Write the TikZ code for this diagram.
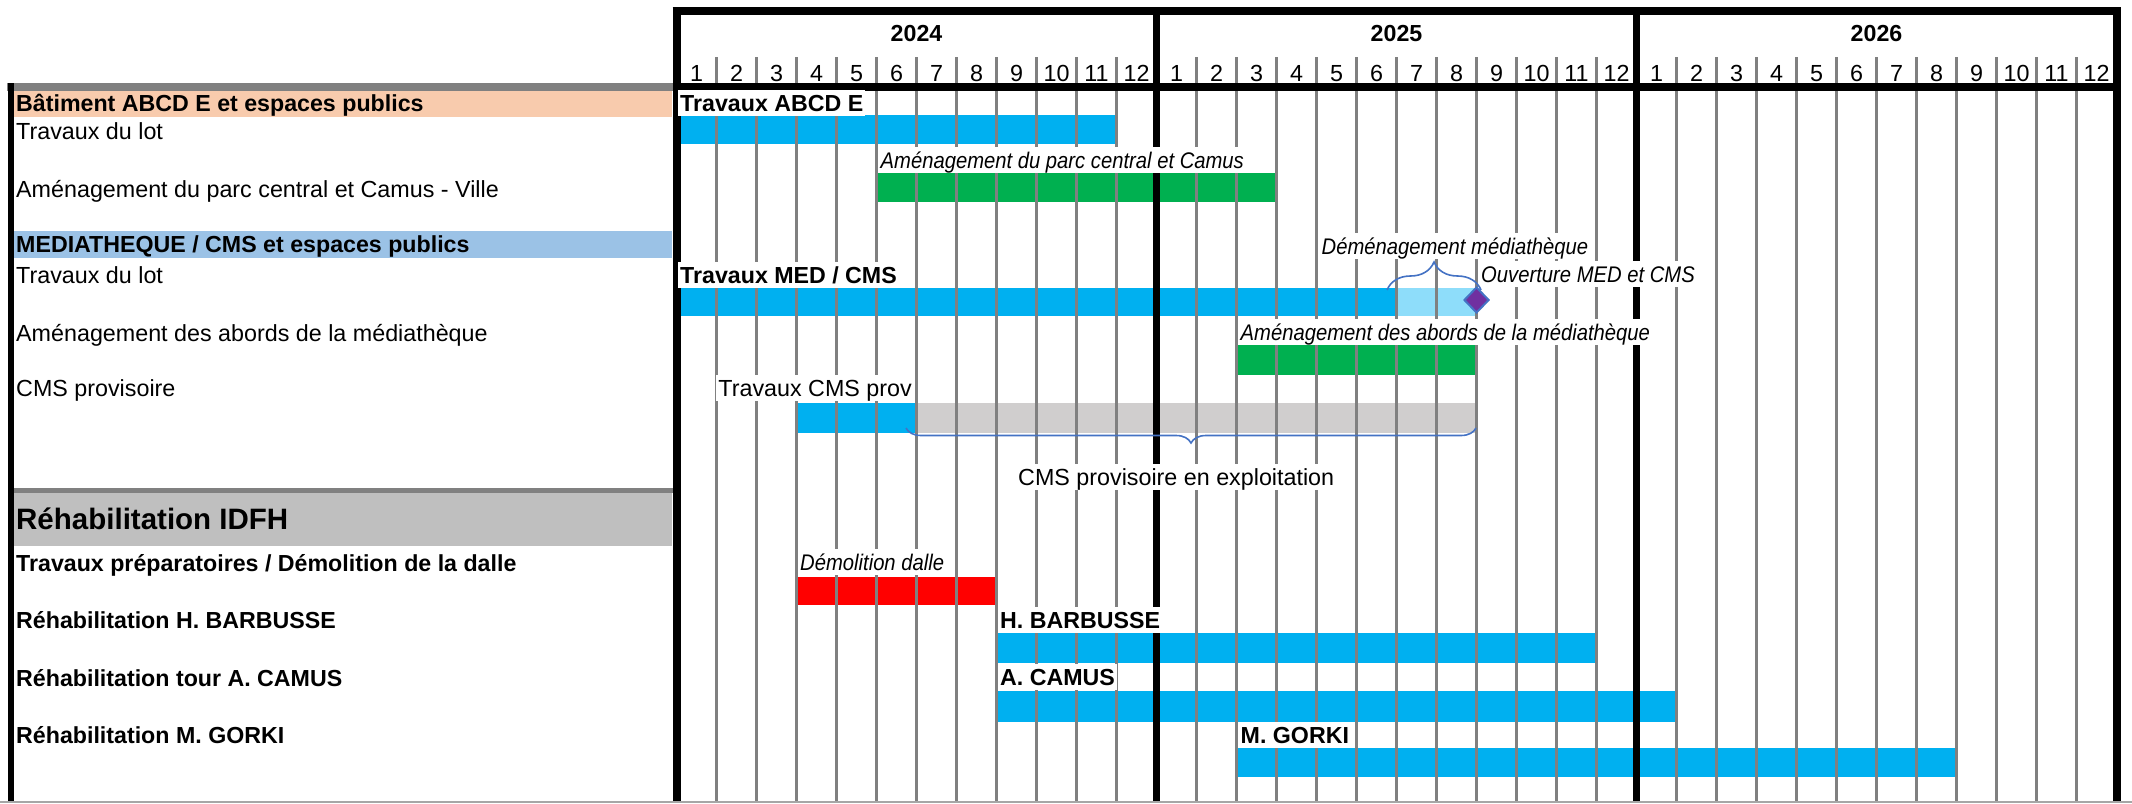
\documentclass[tikz,border=0pt]{standalone}
\usepackage{fontspec}
\setmainfont{Liberation Sans}
\newfontfamily\narrowfam{Liberation Sans}[FakeStretch=0.895]
\usetikzlibrary{decorations.pathreplacing,shapes.geometric}
\definecolor{cblue}{HTML}{00B0F0}
\definecolor{clight}{RGB}{142,221,250}
\definecolor{cgreen}{HTML}{00B050}
\definecolor{cred}{HTML}{FF0000}
\definecolor{cgraybar}{HTML}{D0CECE}
\definecolor{corange}{HTML}{F8CBAD}
\definecolor{cbandblue}{HTML}{9BC2E6}
\definecolor{cbandgray}{HTML}{BFBFBF}
\definecolor{cline}{HTML}{808080}
\definecolor{cpurple}{HTML}{7030A0}
\definecolor{cbrace}{HTML}{4472C4}
\begin{document}
\begin{tikzpicture}[x=1pt,y=-1pt,
  txt/.style={inner xsep=2pt, inner ysep=0pt, text height=21pt, text depth=5pt},
  freg/.style={font=\fontsize{23.3}{28}\selectfont},
  fbold/.style={font=\fontsize{23.2}{28}\selectfont\bfseries},
  fital/.style={font=\narrowfam\fontsize{22.6}{27}\selectfont\itshape},
  rowlbl/.style={txt, anchor=base west},
  barlbl/.style={txt, anchor=base west, fill=white},
  hdr/.style={anchor=base, inner sep=0pt},
  mline/.style={draw=cline, line width=3.5pt},
  blackline/.style={draw=black, line width=#1},
  bracestyle/.style={draw=cbrace, line width=1.6pt, decorate, decoration={brace, amplitude=#1}},
]
\useasboundingbox (0,0) rectangle (2132,803);
\fill[white] (0,0) rectangle (2132,803);

% ---------- left panel ----------
\fill[corange] (14,91) rectangle (672,117);
\fill[cbandblue] (14,231) rectangle (672,258);
\fill[cbandgray] (14,493) rectangle (672,546);
\draw[draw=cline, line width=8pt] (7,87) -- (673,87);
\draw[draw=cline, line width=5pt] (13,490.5) -- (673,490.5);
\draw[blackline=6pt] (10.5,83) -- (10.5,803);

\node[rowlbl, fbold] (l1) at (14,111) {Bâtiment ABCD E et espaces publics};
\node[rowlbl, freg] (l2) at (14,139) {Travaux du lot};
\node[rowlbl, freg] (l3) at (14,197) {Aménagement du parc central et Camus - Ville};
\node[rowlbl, fbold] (l4) at (14,252) {MEDIATHEQUE / CMS et espaces publics};
\node[rowlbl, freg] (l5) at (14,283) {Travaux du lot};
\node[rowlbl, freg] (l6) at (14,341) {Aménagement des abords de la médiathèque};
\node[rowlbl, freg] (l7) at (14,396) {CMS provisoire};
\node[rowlbl, font=\fontsize{29.5}{34}\selectfont\bfseries] (l8) at (14,529) {Réhabilitation IDFH};
\node[rowlbl, fbold] (l9) at (14,571) {Travaux préparatoires / Démolition de la dalle};
\node[rowlbl, fbold] (l10) at (14,628) {Réhabilitation H. BARBUSSE};
\node[rowlbl, fbold] (l11) at (14,686) {Réhabilitation tour A. CAMUS};
\node[rowlbl, fbold] (l12) at (14,743) {Réhabilitation M. GORKI};

% ---------- bars ----------
\fill[cblue]   (676.5+40*0,115) rectangle (676.5+40*11,144);
\fill[cgreen]  (676.5+40*5,173) rectangle (676.5+40*15,202);
\fill[cblue]   (676.5+40*0,288) rectangle (676.5+40*18,316);
\fill[clight]  (676.5+40*18,288) rectangle (676.5+40*20,316);
\fill[cgreen]  (676.5+40*14,345) rectangle (676.5+40*20,375);
\fill[cblue]   (676.5+40*3,403) rectangle (676.5+40*6,433);
\fill[cgraybar](676.5+40*6,403) rectangle (676.5+40*20,433);
\fill[cred]    (676.5+40*3,577) rectangle (676.5+40*8,605);
\fill[cblue]   (676.5+40*8,633) rectangle (676.5+40*23,663);
\fill[cblue]   (676.5+40*8,691) rectangle (676.5+40*25,722);
\fill[cblue]   (676.5+40*14,748) rectangle (676.5+40*32,777);

% ---------- month lines ----------
\foreach \k in {1,...,35}
  \draw[mline] (676.5+40*\k,57) -- (676.5+40*\k,803);

% ---------- black frame ----------
\draw[blackline=7pt] (1156.5,11) -- (1156.5,803);
\draw[blackline=7pt] (1636.5,11) -- (1636.5,803);
\draw[blackline=8pt] (672.5,11) -- (2120.5,11);
\draw[blackline=8pt] (672.5,86.5) -- (2120.5,86.5);
\draw[blackline=8pt] (676.5,7) -- (676.5,803);
\draw[blackline=8pt] (2116.5,7) -- (2116.5,803);

% ---------- header texts ----------
\node[hdr, fbold] (y2024) at (916.5,41.5) {2024};
\node[hdr, fbold] (y2025) at (1396.5,41.5) {2025};
\node[hdr, fbold] (y2026) at (1876.5,41.5) {2026};
\foreach \y in {0,1,2}
  \foreach \m in {1,...,12}
    \node[hdr, freg] (m\y-\m) at ({676.5+40*(12*\y+\m-0.5)},81) {\m};

% ---------- bar labels ----------
\node[barlbl, fbold] (t1) at (678,111) {Travaux ABCD E};
\node[barlbl, fital] (t2) at (878.5,168) {Aménagement du parc central et Camus};
\node[barlbl, fital] (t3) at (1319.5,254) {Déménagement médiathèque};
\node[barlbl, fbold] (t4) at (678,283) {Travaux MED / CMS};
\node[barlbl, fital] (t5) at (1479,282) {Ouverture MED et CMS};
\node[barlbl, fital] (t6) at (1238.5,340) {Aménagement des abords de la médiathèque};
\node[txt, anchor=base east, fill=white, freg] (t7) at (914,396) {Travaux CMS prov};
\node[barlbl, freg] (t8) at (1016,485) {CMS provisoire en exploitation};
\node[barlbl, fital] (t9) at (798,570) {Démolition dalle};
\node[barlbl, fbold] (t10) at (998,628) {H. BARBUSSE};
\node[barlbl, fbold] (t11) at (998,685) {A. CAMUS};
\node[barlbl, fbold] (t12) at (1238.5,743) {M. GORKI};

% ---------- braces & milestone ----------
\coordinate (ba) at (1387,290);
\coordinate (bb) at (1481,290);
\draw[bracestyle=28pt] (ba) -- (bb);
\coordinate (bc) at (1476,428);
\coordinate (bd) at (906,428);
\draw[bracestyle=15pt] (bc) -- (bd);
\node[diamond, fill=cpurple, draw=cbrace, line width=2pt, minimum width=25pt, minimum height=26pt, inner sep=0pt] (ms) at (1476.5,300) {};

% bottom line
\draw[draw=cline!70, line width=1.5pt] (0,802) -- (2132,802);
\end{tikzpicture}
\end{document}
